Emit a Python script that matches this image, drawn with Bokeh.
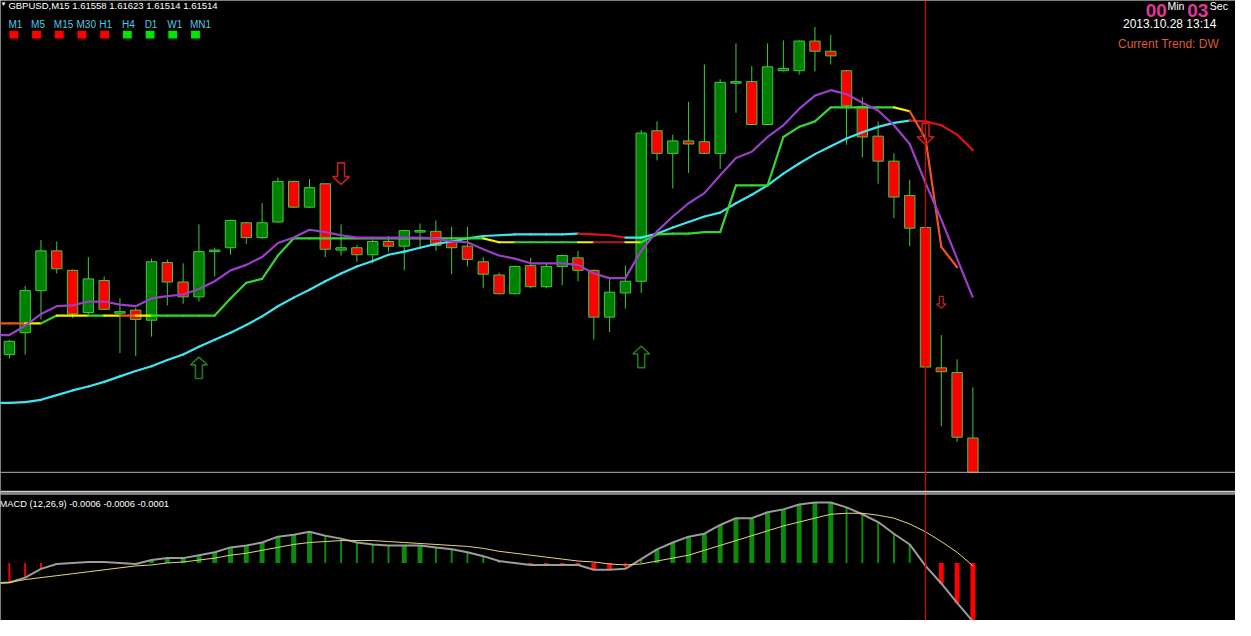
from bokeh.plotting import figure
from bokeh.models import Label, Span, ColumnDataSource
from bokeh.layouts import column
from bokeh.embed import file_html
from bokeh.resources import INLINE

# ---------------- data ----------------
symbol = "GBPUSD,M15"
header_values = ["1.61558", "1.61623", "1.61514", "1.61514"]
macd_header = "MACD (12,26,9) -0.0006 -0.0006 -0.0001"
timer_min, timer_sec = "00", "03"
server_time = "2013.10.28 13:14"
current_trend = "DW"
marker_bar = 58

open_ = [1.61665, 1.61693, 1.61747, 1.61798, 1.61773, 1.61719, 1.61760, 1.61718, 1.61722, 1.61709,
         1.61783, 1.61758, 1.61739, 1.61797, 1.61802, 1.61834, 1.61815, 1.61835, 1.61887, 1.61854,
         1.61884, 1.61799, 1.61802, 1.61793, 1.61810, 1.61804, 1.61822, 1.61823, 1.61810, 1.61804,
         1.61784, 1.61767, 1.61743, 1.61779, 1.61752, 1.61778, 1.61789, 1.61773, 1.61713, 1.61744,
         1.61759, 1.61952, 1.61923, 1.61939, 1.61938, 1.61923, 1.62013, 1.62015, 1.61960, 1.62029,
         1.62029, 1.62067, 1.62054, 1.62029, 1.61983, 1.61945, 1.61913, 1.61869, 1.61828, 1.61648,
         1.61642, 1.61558]
high_ = [1.61684, 1.61753, 1.61812, 1.61810, 1.61774, 1.61790, 1.61765, 1.61737, 1.61725, 1.61788,
         1.61787, 1.61782, 1.61832, 1.61802, 1.61838, 1.61835, 1.61859, 1.61892, 1.61888, 1.61890,
         1.61885, 1.61832, 1.61805, 1.61812, 1.61817, 1.61825, 1.61833, 1.61837, 1.61829, 1.61829,
         1.61790, 1.61770, 1.61779, 1.61789, 1.61783, 1.61793, 1.61798, 1.61774, 1.61763, 1.61779,
         1.61953, 1.61964, 1.61947, 1.61989, 1.62037, 1.62018, 1.62064, 1.62035, 1.62064, 1.62068,
         1.62068, 1.62085, 1.62075, 1.62030, 1.61995, 1.61964, 1.61923, 1.61889, 1.61828, 1.61690,
         1.61659, 1.61623]
low_ = [1.61660, 1.61665, 1.61710, 1.61769, 1.61712, 1.61717, 1.61722, 1.61667, 1.61663, 1.61688,
        1.61728, 1.61730, 1.61733, 1.61765, 1.61793, 1.61807, 1.61813, 1.61834, 1.61853, 1.61853,
        1.61790, 1.61792, 1.61784, 1.61782, 1.61797, 1.61773, 1.61803, 1.61798, 1.61768, 1.61778,
        1.61750, 1.61742, 1.61742, 1.61750, 1.61750, 1.61754, 1.61759, 1.61684, 1.61694, 1.61724,
        1.61744, 1.61914, 1.61878, 1.61898, 1.61922, 1.61903, 1.61975, 1.61959, 1.61959, 1.62028,
        1.62024, 1.62028, 1.62037, 1.61934, 1.61918, 1.61884, 1.61840, 1.61804, 1.61647, 1.61573,
        1.61553, 1.61514]
close_ = [1.61682, 1.61747, 1.61798, 1.61775, 1.61717, 1.61762, 1.61723, 1.61720, 1.61710, 1.61784,
          1.61758, 1.61739, 1.61797, 1.61799, 1.61837, 1.61815, 1.61834, 1.61887, 1.61854, 1.61879,
          1.61800, 1.61802, 1.61793, 1.61810, 1.61804, 1.61824, 1.61824, 1.61805, 1.61802, 1.61787,
          1.61768, 1.61743, 1.61778, 1.61752, 1.61778, 1.61792, 1.61773, 1.61713, 1.61745, 1.61759,
          1.61949, 1.61923, 1.61939, 1.61935, 1.61923, 1.62014, 1.62015, 1.61960, 1.62034, 1.62032,
          1.62067, 1.62054, 1.62048, 1.61984, 1.61944, 1.61913, 1.61867, 1.61827, 1.61649, 1.61643,
          1.61559, 1.61514]

# indicator lines start one bar left of the first visible bar (bar -1)
ma_slow = [1.61603, 1.61603, 1.61604, 1.61607, 1.61613, 1.61619, 1.61624, 1.61630, 1.61637, 1.61644,
           1.61650, 1.61658, 1.61665, 1.61675, 1.61684, 1.61693, 1.61703, 1.61714, 1.61727, 1.61738,
           1.61748, 1.61759, 1.61769, 1.61778, 1.61785, 1.61793, 1.61797, 1.61802, 1.61807, 1.61810,
           1.61814, 1.61817, 1.61818, 1.61819, 1.61819, 1.61819, 1.61819, 1.61820, 1.61819, 1.61818,
           1.61815, 1.61815, 1.61820, 1.61828, 1.61835, 1.61842, 1.61847, 1.61859, 1.61870, 1.61882,
           1.61897, 1.61910, 1.61922, 1.61932, 1.61942, 1.61950, 1.61957, 1.61962, 1.61965, 1.61964,
           1.61959, 1.61947, 1.61927]
ma_fast = [1.61690, 1.61690, 1.61702, 1.61717, 1.61727, 1.61728, 1.61733, 1.61733, 1.61729, 1.61727,
           1.61737, 1.61740, 1.61742, 1.61749, 1.61759, 1.61773, 1.61780, 1.61790, 1.61808, 1.61815,
           1.61825, 1.61822, 1.61818, 1.61815, 1.61815, 1.61815, 1.61815, 1.61815, 1.61814, 1.61810,
           1.61809, 1.61800, 1.61792, 1.61788, 1.61782, 1.61782, 1.61782, 1.61780, 1.61769, 1.61763,
           1.61763, 1.61798, 1.61823, 1.61842, 1.61859, 1.61872, 1.61895, 1.61917, 1.61925, 1.61944,
           1.61959, 1.61980, 1.61997, 1.62004, 1.61999, 1.61988, 1.61978, 1.61959, 1.61935, 1.61885,
           1.61838, 1.61788, 1.61738]
step_ma = [1.61705, 1.61705, 1.61705, 1.61705, 1.61715, 1.61715, 1.61715, 1.61715, 1.61715, 1.61715,
           1.61715, 1.61715, 1.61715, 1.61715, 1.61715, 1.61737, 1.61757, 1.61762, 1.61792, 1.61814,
           1.61814, 1.61814, 1.61814, 1.61814, 1.61814, 1.61814, 1.61814, 1.61814, 1.61814, 1.61814,
           1.61814, 1.61814, 1.61809, 1.61809, 1.61809, 1.61809, 1.61809, 1.61809, 1.61809, 1.61809,
           1.61809, 1.61809, 1.61819, 1.61820, 1.61820, 1.61822, 1.61822, 1.61882, 1.61882, 1.61882,
           1.61944, 1.61957, 1.61964, 1.61982, 1.61982, 1.61982, 1.61982, 1.61982, 1.61977, 1.61942,
           1.61803, 1.61777]
# state of each step-line segment: G rising, Y flat, O falling, R weak falling
step_state = "OOYGYYGYOY" + "G" * 21 + "YY" + "GGGG" + "Y" + "RR" + "Y" + "G" * 16 + "Y" + "OOO"

macd_main = [-0.00021, -0.00020, -0.00015, -0.00006, -0.00001, 0.00000, 0.00001, 0.00001, 0.00000,
             -0.00001, 0.00003, 0.00005, 0.00005, 0.00008, 0.00011, 0.00016, 0.00018, 0.00021, 0.00027,
             0.00029, 0.00032, 0.00028, 0.00025, 0.00021, 0.00019, 0.00018, 0.00018, 0.00018, 0.00016,
             0.00014, 0.00011, 0.00007, 0.00002, 0.00000, -0.00002, -0.00002, -0.00002, -0.00002,
             -0.00007, -0.00007, -0.00006, 0.00004, 0.00014, 0.00021, 0.00027, 0.00030, 0.00039,
             0.00046, 0.00046, 0.00052, 0.00055, 0.00060, 0.00062, 0.00062, 0.00057, 0.00050, 0.00042,
             0.00030, 0.00019, -0.00003, -0.00021, -0.00041, -0.00060]
macd_signal = [-0.00021, -0.00020, -0.00017, -0.00015, -0.00013, -0.00011, -0.00009, -0.00007, -0.00005,
               -0.00003, -0.00002, 0.00000, 0.00001, 0.00003, 0.00005, 0.00008, 0.00010, 0.00013, 0.00016,
               0.00019, 0.00021, 0.00022, 0.00023, 0.00023, 0.00023, 0.00022, 0.00021, 0.00020, 0.00019,
               0.00018, 0.00017, 0.00015, 0.00012, 0.00010, 0.00008, 0.00006, 0.00004, 0.00002, 0.00001,
               -0.00001, -0.00002, -0.00001, 0.00002, 0.00005, 0.00008, 0.00013, 0.00018, 0.00023,
               0.00028, 0.00033, 0.00038, 0.00042, 0.00046, 0.00050, 0.00051, 0.00051, 0.00049, 0.00046,
               0.00040, 0.00032, 0.00022, 0.00011, -0.00003]

up_arrow_bar = [12, 40]
up_arrow_price = [1.61648, 1.61662]
dn_arrow_bar = [21, 58]
dn_arrow_price = [1.61897, 1.61948]
dn_small_bar = [59]
dn_small_price = [1.61732]

tf_names = ["M1", "M5", "M15", "M30", "H1", "H4", "D1", "W1", "MN1"]
tf_trend = ["DW", "DW", "DW", "DW", "DW", "UP", "UP", "UP", "UP"]

# ---------------- layout ----------------
W, HM, HS = 1235, 492, 128
REF_W, REF_H = 1251, 636
BAR_PX = 16.0
X0 = -0.5625
X1 = X0 + REF_W / BAR_PX
PX = 0.0000125          # price per reference pixel
Y_TOP = 1.62119
ref_main_h = HM * REF_H / (HM + HS)
MACD_ZERO = 577.0
MACD_PX = 0.00001


def rx(x):
    return X0 + x / BAR_PX


def ry(y):
    return Y_TOP - y * PX


def my(y):
    return (MACD_ZERO - y) * MACD_PX


FONT = "Liberation Sans"
BG = "#000000"


def make_fig(h, yr):
    f = figure(width=W, height=h, x_range=(X0, X1), y_range=yr,
               output_backend="svg", toolbar_location=None, tools="",
               x_axis_location=None, y_axis_location=None,
               background_fill_color=BG, border_fill_color=BG,
               outline_line_color=None, min_border=0)
    f.xgrid.visible = False
    f.ygrid.visible = False
    return f


p = make_fig(HM, (ry(ref_main_h), Y_TOP))

bars = list(range(len(open_)))
ext = list(range(-1, len(open_)))
WICK = "#3dcc3d"
src = ColumnDataSource(dict(
    x=bars, o=open_, h=high_, l=low_, c=close_,
    top=[max(a, b) for a, b in zip(open_, close_)],
    bot=[min(a, b) for a, b in zip(open_, close_)],
    fill=["#008000" if c > o else "#ff0000" for o, c in zip(open_, close_)],
))
p.segment(x0="x", y0="h", x1="x", y1="l", source=src, line_color=WICK, line_width=1)
p.vbar(x="x", width=10.5 / BAR_PX, top="top", bottom="bot", source=src,
       fill_color="fill", line_color=WICK, line_width=1)

# slow MA: cyan, red while falling
cyan_col = ["#d81414" if b < a else "#3ee6f0" for a, b in zip(ma_slow[:-1], ma_slow[1:])]
p.segment(x0=ext[:-1], y0=ma_slow[:-1], x1=ext[1:], y1=ma_slow[1:],
          line_color=cyan_col, line_width=2.2, line_cap="round")

# step line
step_colors = {"G": "#34d634", "Y": "#f2f200", "O": "#ee5522", "R": "#b41c1c"}
sx = list(range(-1, -1 + len(step_ma)))
p.segment(x0=sx[:-1], y0=step_ma[:-1], x1=sx[1:], y1=step_ma[1:],
          line_color=[step_colors[s] for s in step_state], line_width=2.2, line_cap="round")

# fast MA
p.line(ext, ma_fast, line_color="#9b3fc8", line_width=2.2)

# bid line and current bar marker
p.add_layout(Span(location=close_[-1], dimension="width", line_color="#b4b4b4", line_width=1))
p.add_layout(Span(location=marker_bar, dimension="height", line_color="#e00000", line_width=1.2))
p.add_layout(Span(location=ry(503.5), dimension="width", line_color="#ffffff", line_width=1))


def arrow(cx, cy, scale, up):
    shape = [(-3.5, -11), (3.5, -11), (3.5, 3), (8.5, 3), (0, 11), (-8.5, 3), (-3.5, 3)]
    xs, ys = [], []
    for dx, dy in shape:
        if up:
            dy = -dy
        xs.append(cx + dx * scale / BAR_PX)
        ys.append(cy - dy * scale * PX)
    return xs, ys


for b, pr in zip(up_arrow_bar, up_arrow_price):
    xs, ys = arrow(b, pr, 1.0, True)
    p.patch(xs, ys, fill_alpha=0, line_color="#1f7a1f", line_width=1.6)
for b, pr in zip(dn_arrow_bar, dn_arrow_price):
    xs, ys = arrow(b, pr, 1.0, False)
    p.patch(xs, ys, fill_alpha=0, line_color="#c81e1e", line_width=1.6)
for b, pr in zip(dn_small_bar, dn_small_price):
    xs, ys = arrow(b, pr, 0.55, False)
    p.patch(xs, ys, fill_alpha=0, line_color="#c81e1e", line_width=1.3)

# header texts
p.add_layout(Label(x=rx(0), y=ry(4), text="▼", text_color="white", text_font=FONT,
                   text_font_size="6px", text_baseline="middle"))
p.add_layout(Label(x=rx(8), y=ry(5), text=symbol + "  " + " ".join(header_values),
                   text_color="white", text_font=FONT, text_font_size="9.5px",
                   text_baseline="middle"))
for k, (nm, tr) in enumerate(zip(tf_names, tf_trend)):
    p.add_layout(Label(x=rx(8 + 23 * k), y=ry(24.5), text=nm, text_color="#50c8e6",
                       text_font=FONT, text_font_size="10px", text_baseline="middle"))
p.rect(x=[rx(13.5 + 23 * k) for k in range(len(tf_names))], y=[ry(35)] * len(tf_names),
       width=9 / BAR_PX, height=8 * PX,
       fill_color=["#ff0000" if t == "DW" else "#00e600" for t in tf_trend], line_color=None)

PINK = "#e2389a"
p.add_layout(Label(x=rx(1160), y=ry(10), text=timer_min, text_color=PINK, text_font=FONT,
                   text_font_size="19px", text_font_style="bold", text_baseline="middle"))
p.add_layout(Label(x=rx(1182), y=ry(6), text="Min", text_color="white", text_font=FONT,
                   text_font_size="10.5px", text_baseline="middle"))
p.add_layout(Label(x=rx(1202), y=ry(10), text=timer_sec, text_color=PINK, text_font=FONT,
                   text_font_size="19px", text_font_style="bold", text_baseline="middle"))
p.add_layout(Label(x=rx(1225), y=ry(6), text="Sec", text_color="white", text_font=FONT,
                   text_font_size="10.5px", text_baseline="middle"))
p.add_layout(Label(x=rx(1137), y=ry(24), text=server_time, text_color="white", text_font=FONT,
                   text_font_size="12px", text_baseline="middle"))
p.add_layout(Label(x=rx(1132), y=ry(45), text="Current Trend: " + current_trend,
                   text_color="#dc5a32", text_font=FONT, text_font_size="12px",
                   text_baseline="middle"))

# ---------------- MACD panel ----------------
q = make_fig(HS, (my(REF_H), my(ref_main_h)))
hv = macd_main[1:]
prev = macd_main[:-1]
hsrc = ColumnDataSource(dict(
    x=bars,
    top=[max(v, 0) for v in hv],
    bot=[min(v, 0) for v in hv],
    w=[(5 if abs(v) >= abs(pv) else 2) / BAR_PX for v, pv in zip(hv, prev)],
    col=["#0b8a0b" if v > 0 else "#ff0000" for v in hv],
))
q.vbar(x="x", width="w", top="top", bottom="bot", source=hsrc, fill_color="col", line_color=None)
q.line(ext, macd_main, line_color="#9c9c9c", line_width=2)
q.line(ext, macd_signal, line_color="#e6d67c", line_width=1)
q.add_layout(Span(location=marker_bar, dimension="height", line_color="#e00000", line_width=1.2))
q.add_layout(Span(location=my(506.2), dimension="width", line_color="#ffffff", line_width=1))
q.add_layout(Label(x=rx(-1), y=my(516), text=macd_header, text_color="white", text_font=FONT,
                   text_font_size="9.3px", text_baseline="middle"))

layout = column(p, q, spacing=0)
open("out.html", "w").write(file_html(layout, INLINE))
